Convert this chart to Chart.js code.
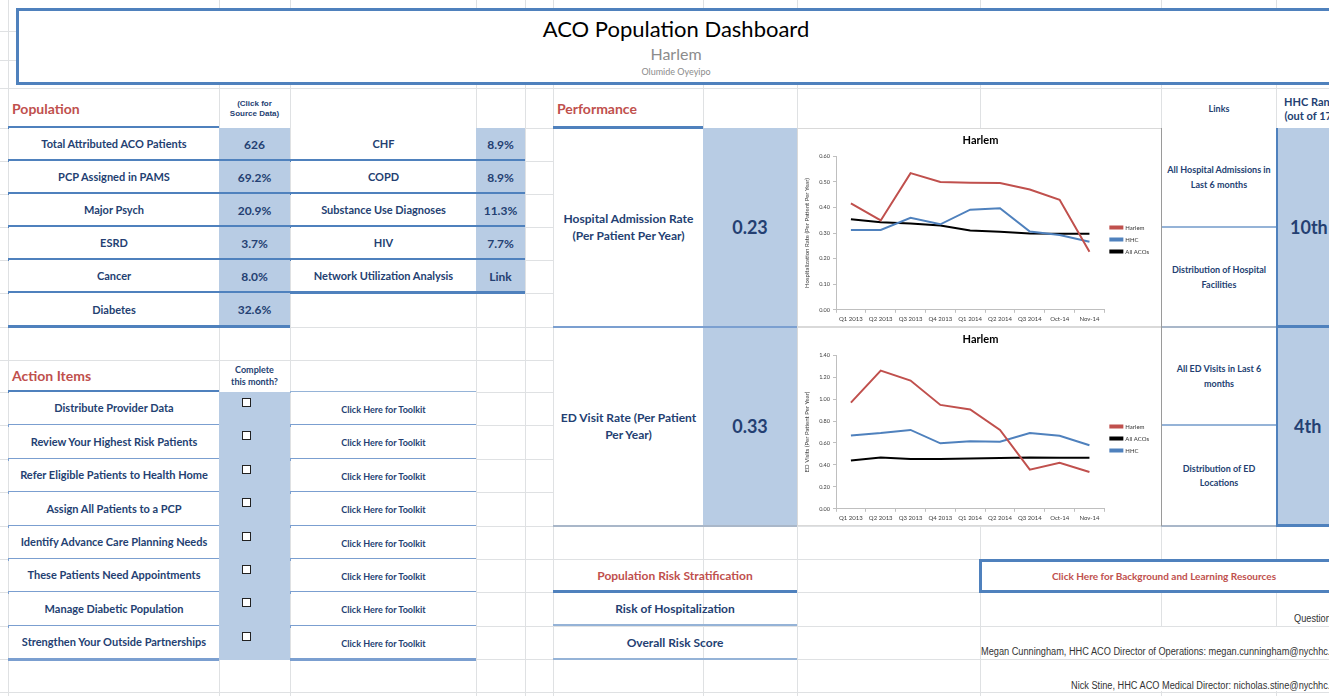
<!DOCTYPE html>
<html>
<head>
<meta charset="utf-8">
<script src="https://cdn.jsdelivr.net/npm/chart.js@4/dist/chart.umd.min.js"></script>
<style>
body{margin:0;width:1329px;height:696px;overflow:hidden;background:#fff;position:relative;font-family:Lato,"Open Sans",sans-serif}
.vl{position:absolute;top:0;width:1px;height:696px;background:#dfe1e3}
.hl{position:absolute;left:0;height:1px;width:1329px;background:#dfe1e3}
.c{position:absolute;display:flex;align-items:center;justify-content:center;text-align:center;color:#243f72;font-weight:bold;font-size:11px;line-height:1.3;box-sizing:border-box}
.w{background:#fff}
.b{background:#b8cce4}
.ln{position:absolute}
.red{color:#c0504d}
.chk{position:absolute;width:7px;height:7px;border:1px solid #222;background:#fff}
.box{position:absolute;background:#fff;border:1px solid #d9d9d9;box-sizing:border-box}
.narrow{position:absolute;font-family:"Liberation Sans Narrow","Liberation Sans",sans-serif;font-size:10px;color:#333;white-space:nowrap;transform:scaleX(0.92);transform-origin:left top}
</style>
</head>
<body>
<script>
/* DATA */

const quarters = ['Q1 2013','Q2 2013','Q3 2013','Q4 2013','Q1 2014','Q2 2014','Q3 2014','Oct-14','Nov-14'];

const admitHarlem  = [0.416,0.349,0.534,0.499,0.496,0.495,0.470,0.430,0.227];
const admitHHC     = [0.312,0.312,0.359,0.334,0.391,0.397,0.306,0.292,0.266];
const admitAllACOs = [0.354,0.342,0.337,0.329,0.310,0.305,0.298,0.297,0.297];

const edHarlem  = [0.968,1.259,1.169,0.947,0.905,0.719,0.357,0.420,0.336];
const edAllACOs = [0.441,0.468,0.453,0.453,0.459,0.462,0.468,0.465,0.465];
const edHHC     = [0.669,0.690,0.719,0.597,0.615,0.612,0.690,0.666,0.579];

const popLeft = [
    ['Total Attributed ACO Patients','626'],
    ['PCP Assigned in PAMS','69.2%'],
    ['Major Psych','20.9%'],
    ['ESRD','3.7%'],
    ['Cancer','8.0%'],
    ['Diabetes','32.6%']
];

const popRight = [
    ['CHF','8.9%'],
    ['COPD','8.9%'],
    ['Substance Use Diagnoses','11.3%'],
    ['HIV','7.7%'],
    ['Network Utilization Analysis','Link']
];

const actions = [
    'Distribute Provider Data',
    'Review Your Highest Risk Patients',
    'Refer Eligible Patients to Health Home',
    'Assign All Patients to a PCP',
    'Identify Advance Care Planning Needs',
    'These Patients Need Appointments',
    'Manage Diabetic Population',
    'Strengthen Your Outside Partnerships'
];

/* HELPERS */

function el(cls,x,y,w,h,html,extra){
    const d = document.createElement('div');
    d.className = cls;
    d.style.left = x+'px';
    d.style.top = y+'px';
    if(w!=null) d.style.width = w+'px';
    if(h!=null) d.style.height = h+'px';
    if(html) d.innerHTML = html;
    if(extra) d.style.cssText += extra;
    document.body.appendChild(d);
    return d;
}

function line(x,y,w,h,color){
    el('ln',x,y,w,h,'','background:'+color);
}

/* SPREADSHEET GRID */

[8,219,290,476,525,553,703,797,980,1161,1276].forEach(x=>el('vl',x,0));
[31,60,88,128,161,194,227,260,293,327,360,392,425,459,492,526,559,592,626,659,692].forEach(y=>el('hl',0,y));

/* TITLE */

el('c w',16,8,1320,77,'','border:3px solid #4f81bd;');
el('c',16,14,1320,30,'ACO Population Dashboard','font-weight:normal;font-size:22px;color:#000');
el('c',16,44,1320,20,'Harlem','font-weight:normal;font-size:16px;color:#8c8c8c');
el('c',16,65,1320,14,'Olumide Oyeyipo','font-weight:normal;font-size:9px;color:#8c8c8c');

/* POPULATION */

el('c red',12,92,200,34,'Population','justify-content:flex-start;font-size:14px');
el('c',219,92,71,34,'(Click for<br>Source Data)','font-family:"Liberation Sans",Arial,sans-serif;font-size:8px;line-height:1.25;color:#1f3f73');
line(8,126,211,3,'#4f81bd');

const popRows = [128,161,194,227,260,293,327];

popLeft.forEach((r,i)=>{
    const y = popRows[i], h = popRows[i+1]-y;
    el('c w',9,y,210,h,r[0]);
    el('c b',219,y,71,h,r[1],'font-size:12px');
    line(8,popRows[i+1]-2,282,3,'#4f81bd');
});

popRight.forEach((r,i)=>{
    const y = popRows[i], h = popRows[i+1]-y;
    el('c w',291,y,185,h,r[0]);
    el('c b',476,y,49,h,r[1],'font-size:12px');
    line(290,popRows[i+1]-2,235,3,'#4f81bd');
});

/* ACTION ITEMS */

el('c red',12,361,200,30,'Action Items','justify-content:flex-start;font-size:14px');
el('c',219,361,71,30,'Complete<br>this month?','font-size:9px;line-height:1.3');
line(8,390,211,3,'#4f81bd');
line(290,391,186,2,'#95b3d7');

const actRows = [392,425,459,492,526,559,592,626,659];

actions.forEach((a,i)=>{
    const y = actRows[i], h = actRows[i+1]-y;
    el('c w',9,y,210,h,a);
    el('c b',219,y,71,h+1,'');
    el('chk',242,y+6);
    el('c w',291,y,185,h,'Click Here for Toolkit','font-size:9px;padding-top:2px');
    line(8,actRows[i+1]-1,211,3,'#7b9fd0');
    line(290,actRows[i+1]-1,186,3,'#7b9fd0');
});

/* PERFORMANCE */

el('c red',557,92,145,34,'Performance','justify-content:flex-start;font-size:14px');
line(553,126,150,3,'#4f81bd');
el('c w',554,129,149,197,'Hospital Admission Rate<br>(Per Patient Per Year)','font-size:12px;line-height:1.35');
el('c b',703,128,94,398,'');
el('c',703,128,94,199,'0.23','font-size:18px');
el('c',703,327,94,199,'0.33','font-size:18px');
line(553,326,244,2,'#7b9fd0');
el('c w',554,328,149,197,'ED Visit Rate (Per Patient<br>Per Year)','font-size:12px;line-height:1.35');
line(553,525,244,2,'#a9b7c9');

/* LINKS + RANK */

el('c',1162,92,114,34,'Links','font-size:9px');
el('c',1277,92,80,34,'HHC Rank<br>(out of 17)','font-size:11px;line-height:1.25;justify-content:flex-start;padding-left:7px');
el('c w',1162,128,114,99,'All Hospital Admissions in<br>Last 6 months','font-size:9px;line-height:1.6');
el('c w',1162,228,114,99,'Distribution of Hospital<br>Facilities','font-size:9px;line-height:1.6');
el('c w',1162,328,114,97,'All ED Visits in Last 6<br>months','font-size:9px;line-height:1.6');
el('c w',1162,426,114,100,'Distribution of ED<br>Locations','font-size:9px;line-height:1.6');
line(1161,226,115,2,'#95b3d7');
line(1161,424,115,2,'#95b3d7');
line(1161,326,115,2,'#a9b7c9');
line(1161,525,115,2,'#a9b7c9');
el('c b',1276,128,60,398,'');
line(1276,128,2,398,'#4f81bd');
line(1276,325,60,3,'#4f81bd');
line(1276,524,60,3,'#4f81bd');
el('c',1290,128,60,199,'10th','font-size:18px;justify-content:flex-start');
el('c',1290,327,60,199,'4th','font-size:18px;justify-content:flex-start;padding-left:4px');

/* RISK STRATIFICATION */

el('c red',553,560,244,31,'Population Risk Stratification','font-size:12px');
line(553,590,244,3,'#4f81bd');
el('c',553,593,244,32,'Risk of Hospitalization','font-size:12px');
line(553,624,244,2,'#95b3d7');
el('c',553,627,244,31,'Overall Risk Score','font-size:12px');
line(553,658,244,2,'#95b3d7');

el('c w',979,559,360,34,'Click Here for Background and Learning Resources','border:3px solid #4f81bd;font-size:10px;color:#c0504d;justify-content:flex-start;padding-left:70px');

el('narrow',1294,613,null,null,'Questions?');
el('ln w',981,627,360,31,'');
el('ln w',981,660,360,31,'');
el('narrow',981,646,null,null,'Megan Cunningham, HHC ACO Director of Operations: megan.cunningham@nychhc.org');
el('narrow',1071,680,null,null,'Nick Stine, HHC ACO Medical Director: nicholas.stine@nychhc.org');

/* CHART BOXES */

el('box',797,128,365,199,'<canvas id="admitChart"></canvas>');
el('box',797,327,365,199,'<canvas id="edChart"></canvas>');
line(1161,128,1,398,'#9a9a9a');
</script>

<script>
Chart.defaults.font.family = 'Lato';

function makeChart(id,series,yMax,yStep,yTitle){

    return new Chart(document.getElementById(id),{

        type:'line',

        data:{
            labels:quarters,
            datasets:series.map(s=>({
                label:s.label,
                data:s.data,
                borderColor:s.color,
                backgroundColor:s.color,
                borderWidth:2,
                pointRadius:0,
                tension:0
            }))
        },

        options:{
            responsive:true,
            maintainAspectRatio:false,
            animation:false,
            layout:{padding:{left:4,right:2,top:0,bottom:0}},
            plugins:{
                title:{
                    display:true,
                    text:'Harlem',
                    color:'#000',
                    font:{size:11,weight:'bold'},
                    padding:{top:5,bottom:9}
                },
                legend:{
                    position:'right',
                    title:{display:true,text:' ',font:{size:6},padding:{top:0,bottom:17}},
                    labels:{boxWidth:12,boxHeight:2,color:'#333',font:{size:6},padding:6}
                },
                tooltip:{enabled:false}
            },
            scales:{
                x:{
                    offset:true,
                    grid:{offset:true,drawOnChartArea:false,tickLength:3,color:'#bfbfbf'},
                    border:{color:'#bfbfbf'},
                    ticks:{color:'#404040',font:{size:6},maxRotation:0,autoSkip:false,padding:3}
                },
                y:{
                    min:0,
                    max:yMax,
                    grid:{drawOnChartArea:false,tickLength:3,color:'#bfbfbf'},
                    border:{color:'#bfbfbf'},
                    ticks:{stepSize:yStep,color:'#404040',font:{size:5.5},callback:v=>v.toFixed(2)},
                    title:{display:true,text:yTitle,color:'#404040',font:{size:6},padding:1},
                    afterFit(scale){ scale.width = 34; }
                }
            }
        }

    });

}

makeChart('admitChart',[
    {label:'Harlem',data:admitHarlem,color:'#c0504d'},
    {label:'HHC',data:admitHHC,color:'#4f81bd'},
    {label:'All ACOs',data:admitAllACOs,color:'#000'}
],0.6,0.1,'Hospitalization Rate (Per Patient Per Year)');

makeChart('edChart',[
    {label:'Harlem',data:edHarlem,color:'#c0504d'},
    {label:'All ACOs',data:edAllACOs,color:'#000'},
    {label:'HHC',data:edHHC,color:'#4f81bd'}
],1.4,0.2,'ED Visits (Per Patient Per Year)');
</script>
</body>
</html>
